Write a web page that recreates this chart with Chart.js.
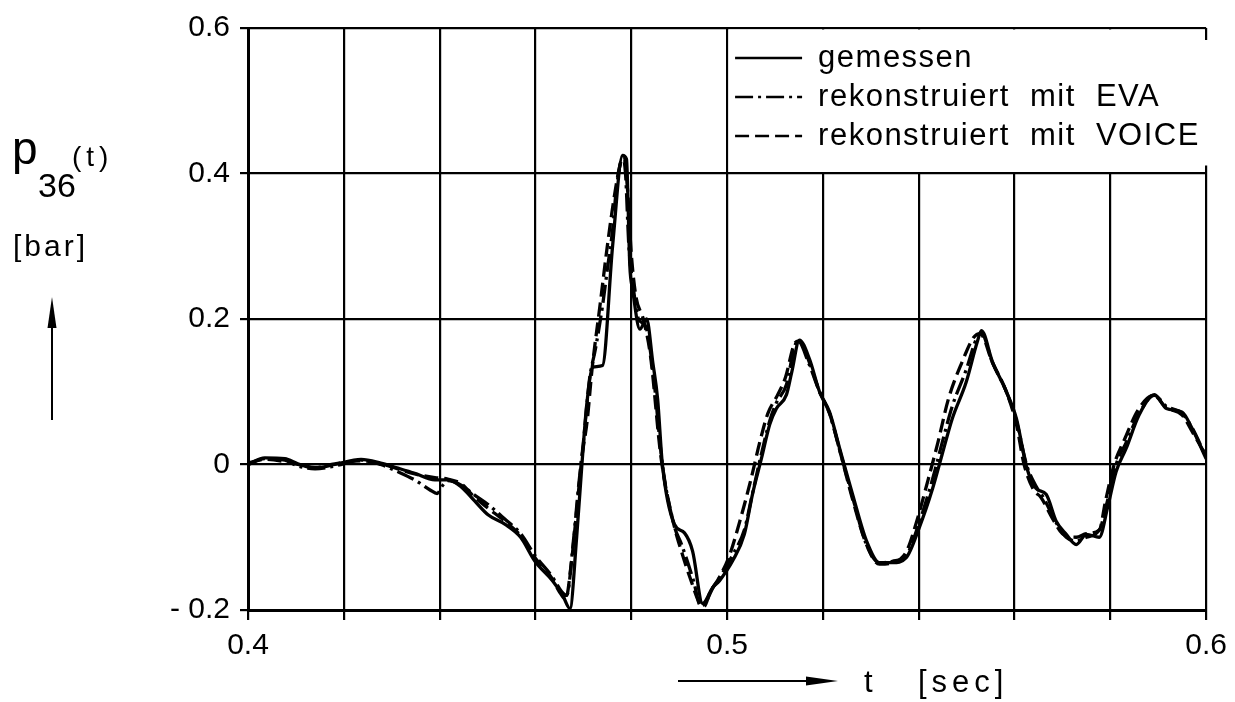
<!DOCTYPE html>
<html>
<head>
<meta charset="utf-8">
<script src="https://cdn.jsdelivr.net/npm/chart.js@4.4.1/dist/chart.umd.min.js"></script>
<style>
  html, body { margin: 0; padding: 0; background: #fff; }
  #wrap { width: 1235px; height: 702px; position: relative; }
</style>
</head>
<body>
<div id="wrap"><canvas id="c" width="1235" height="702"></canvas></div>
<script>
// ---- data ----
const seriesNames = ['gemessen', 'rekonstruiert mit EVA', 'rekonstruiert mit VOICE'];

const tGemessen = [0.400,0.4035,0.4077,0.4104,0.4140,0.4181,0.4236,0.4277,0.4313,0.4348,0.4390,0.4417,0.4444,0.4473,0.4501,0.4536,0.4569,0.4599,0.4636,0.4657,0.4672,0.4686,0.4697,0.4707,0.4720,0.4740,0.4761,0.4782,0.4790,0.4797,0.4803,0.4818,0.4832,0.4845,0.4855,0.4865,0.4890,0.4911,0.4928,0.4949,0.4970,0.4984,0.4999,0.5011,0.5036,0.5053,0.5072,0.5089,0.5103,0.5124,0.5135,0.5151,0.5172,0.5193,0.5214,0.5235,0.5262,0.5291,0.5318,0.5345,0.5374,0.5401,0.5429,0.5449,0.5470,0.5499,0.5522,0.5531,0.5554,0.5583,0.5604,0.5625,0.5645,0.5666,0.5687,0.5708,0.5729,0.5750,0.5777,0.5794,0.5812,0.5833,0.5860,0.5892,0.5917,0.5950,0.5971,0.6000];
const pGemessen = [0.000,0.009,0.008,0.001,-0.005,0.000,0.007,0.002,-0.005,-0.012,-0.021,-0.021,-0.030,-0.050,-0.069,-0.082,-0.100,-0.133,-0.160,-0.180,-0.198,-0.100,0.000,0.082,0.134,0.136,0.300,0.425,0.420,0.273,0.240,0.186,0.200,0.140,0.090,0.000,-0.082,-0.094,-0.119,-0.191,-0.169,-0.160,-0.146,-0.133,-0.096,-0.041,0.009,0.055,0.077,0.096,0.127,0.171,0.145,0.100,0.072,0.022,-0.041,-0.105,-0.135,-0.135,-0.128,-0.087,-0.033,0.014,0.063,0.113,0.168,0.184,0.141,0.100,0.063,-0.003,-0.033,-0.041,-0.078,-0.096,-0.110,-0.096,-0.100,-0.060,-0.010,0.022,0.068,0.096,0.077,0.072,0.049,0.008];

const tEva = [0.400,0.4035,0.4077,0.4104,0.4140,0.4181,0.4236,0.4277,0.4313,0.4350,0.4380,0.4395,0.4405,0.4417,0.4444,0.4473,0.4501,0.4536,0.4569,0.4599,0.4636,0.4655,0.4665,0.4680,0.4690,0.4700,0.4713,0.4725,0.4740,0.4751,0.4761,0.4768,0.4776,0.4782,0.4788,0.4795,0.4803,0.4815,0.4830,0.4845,0.4865,0.4890,0.4905,0.4930,0.4945,0.4955,0.4970,0.4990,0.5011,0.5036,0.5053,0.5070,0.5089,0.5103,0.5124,0.5140,0.5148,0.5170,0.5193,0.5214,0.5235,0.5262,0.5291,0.5318,0.5345,0.5374,0.5401,0.5429,0.5449,0.5470,0.5499,0.5522,0.5531,0.5554,0.5583,0.5604,0.5625,0.5645,0.5660,0.5687,0.5708,0.5729,0.5750,0.5777,0.5794,0.5812,0.5833,0.5860,0.5892,0.5917,0.5950,0.5971,0.6000];
const pEva = [0.000,0.008,0.006,-0.002,-0.006,-0.002,0.006,0.000,-0.010,-0.022,-0.035,-0.040,-0.030,-0.022,-0.028,-0.042,-0.055,-0.075,-0.095,-0.125,-0.155,-0.175,-0.180,-0.100,-0.030,0.030,0.118,0.158,0.218,0.273,0.322,0.373,0.410,0.424,0.400,0.300,0.250,0.200,0.190,0.130,0.000,-0.085,-0.110,-0.160,-0.195,-0.190,-0.170,-0.150,-0.125,-0.090,-0.040,0.010,0.060,0.085,0.110,0.160,0.170,0.140,0.100,0.070,0.020,-0.045,-0.110,-0.135,-0.133,-0.125,-0.080,-0.020,0.030,0.080,0.130,0.175,0.180,0.140,0.100,0.060,0.000,-0.030,-0.045,-0.080,-0.100,-0.105,-0.100,-0.090,-0.050,0.000,0.030,0.070,0.095,0.080,0.070,0.050,0.010];

const tVoice = [0.400,0.4035,0.4077,0.4104,0.4140,0.4181,0.4236,0.4277,0.4313,0.4348,0.4390,0.4417,0.4444,0.4473,0.4501,0.4536,0.4569,0.4599,0.4636,0.4650,0.4663,0.4675,0.4688,0.4697,0.4708,0.4718,0.4735,0.4750,0.4765,0.4778,0.4785,0.4792,0.4800,0.4810,0.4825,0.4840,0.4862,0.4888,0.4905,0.4925,0.4942,0.4952,0.4965,0.4984,0.5005,0.5030,0.5050,0.5068,0.5085,0.5105,0.5122,0.5140,0.5150,0.5172,0.5193,0.5214,0.5235,0.5262,0.5291,0.5318,0.5345,0.5374,0.5395,0.5420,0.5440,0.5462,0.5490,0.5515,0.5528,0.5554,0.5583,0.5604,0.5620,0.5640,0.5655,0.5680,0.5700,0.5729,0.5750,0.5777,0.5790,0.5808,0.5830,0.5858,0.5890,0.5917,0.5950,0.5971,0.6000];
const pVoice = [0.002,0.007,0.004,0.000,-0.004,0.001,0.005,0.001,-0.006,-0.013,-0.018,-0.020,-0.026,-0.045,-0.060,-0.078,-0.098,-0.128,-0.158,-0.175,-0.185,-0.135,-0.050,0.010,0.060,0.130,0.220,0.300,0.370,0.415,0.420,0.380,0.290,0.230,0.200,0.150,0.010,-0.080,-0.120,-0.160,-0.190,-0.195,-0.175,-0.155,-0.125,-0.070,-0.020,0.030,0.070,0.095,0.120,0.165,0.170,0.140,0.100,0.070,0.020,-0.048,-0.110,-0.137,-0.135,-0.120,-0.080,-0.020,0.030,0.090,0.140,0.175,0.180,0.140,0.100,0.055,0.000,-0.035,-0.045,-0.075,-0.095,-0.100,-0.095,-0.090,-0.050,0.000,0.035,0.075,0.095,0.078,0.068,0.045,0.012];

const yTickValues = [-0.2, 0, 0.2, 0.4, 0.6];
const yTickLabels = ['- 0.2', '0', '0.2', '0.4', '0.6'];
const xTickValues = [0.4, 0.5, 0.6];
const xTickLabels = ['0.4', '0.5', '0.6'];

// ---- chart ----
const FONT = '"Liberation Sans", Arial, sans-serif';
const toXY = (ts, ps) => ts.map((t, i) => ({ x: t, y: ps[i] }));
const findLabel = (vals, labels, v) => {
  const i = vals.findIndex(a => Math.abs(a - v) < 1e-6);
  return i >= 0 ? labels[i] : '';
};

const boxLegend = {
  id: 'boxLegend',
  beforeDatasetsDraw(chart) {
    const { ctx, chartArea: a, scales: { x, y } } = chart;
    const x0 = x.getPixelForValue(0.5);
    const y1 = y.getPixelForValue(0.4);
    ctx.save();
    ctx.fillStyle = '#fff';
    ctx.fillRect(x0 + 1.5, a.top + 1.5, a.right - 1.5 - (x0 + 1.5), y1 - 1.5 - (a.top + 1.5));
    ctx.fillRect(a.right - 4, a.top + 12, 8, y1 - 8 - (a.top + 12));
    chart.data.datasets.forEach((ds, i) => {
      const yy = a.top + 30 + i * 39;
      ctx.beginPath();
      ctx.setLineDash(ds.borderDash || []);
      ctx.lineWidth = 2.5;
      ctx.strokeStyle = '#000';
      ctx.moveTo(x0 + 8, yy);
      ctx.lineTo(x0 + 75, yy);
      ctx.stroke();
      ctx.setLineDash([]);
      ctx.font = '31px ' + FONT;
      ctx.letterSpacing = '1.5px';
      ctx.wordSpacing = '10px';
      ctx.textBaseline = 'alphabetic';
      ctx.textAlign = 'left';
      ctx.fillStyle = '#000';
      ctx.fillText(ds.label, x0 + 91, yy + 9);
    });
    ctx.restore();
  }
};

const axisTitles = {
  id: 'axisTitles',
  afterDraw(chart) {
    const { ctx } = chart;
    ctx.save();
    ctx.fillStyle = '#000';
    ctx.strokeStyle = '#000';
    ctx.textBaseline = 'alphabetic';
    ctx.textAlign = 'left';
    // y title: p36(t) [bar] with arrow
    ctx.font = '46px ' + FONT;
    ctx.fillText('p', 12, 164);
    ctx.font = '34px ' + FONT;
    ctx.fillText('36', 38, 197);
    ctx.font = '28px ' + FONT;
    ctx.letterSpacing = '5px';
    ctx.fillText('(t)', 72, 166);
    ctx.font = '30px ' + FONT;
    ctx.letterSpacing = '3px';
    ctx.fillText('[bar]', 13, 256);
    ctx.letterSpacing = '0px';
    ctx.lineWidth = 2;
    ctx.beginPath(); ctx.moveTo(52, 420); ctx.lineTo(52, 320); ctx.stroke();
    ctx.beginPath(); ctx.moveTo(52, 297); ctx.lineTo(47.5, 328); ctx.lineTo(56.5, 328); ctx.closePath(); ctx.fill();
    // x title: arrow t [sec]
    ctx.beginPath(); ctx.moveTo(678, 681); ctx.lineTo(812, 681); ctx.stroke();
    ctx.beginPath(); ctx.moveTo(838, 681); ctx.lineTo(806, 676.5); ctx.lineTo(806, 685.5); ctx.closePath(); ctx.fill();
    ctx.font = '31px ' + FONT;
    ctx.fillText('t', 864, 692);
    ctx.letterSpacing = '5px';
    ctx.fillText('[sec]', 918, 692);
    ctx.restore();
  }
};

const lineStyle = { borderColor: '#000', backgroundColor: '#000', borderWidth: 3.3, pointRadius: 0, fill: false, cubicInterpolationMode: 'monotone' };

new Chart(document.getElementById('c'), {
  type: 'line',
  data: {
    datasets: [
      Object.assign({ label: seriesNames[0], data: toXY(tGemessen, pGemessen), borderDash: [] }, lineStyle),
      Object.assign({ label: seriesNames[1], data: toXY(tEva, pEva), borderDash: [18, 5, 3, 5] }, lineStyle),
      Object.assign({ label: seriesNames[2], data: toXY(tVoice, pVoice), borderDash: [14, 6] }, lineStyle)
    ]
  },
  options: {
    responsive: false,
    animation: false,
    events: [],
    layout: { padding: { left: 0, right: 28, top: 27, bottom: 0 } },
    plugins: { legend: { display: false }, tooltip: { enabled: false }, title: { display: false } },
    scales: {
      x: {
        type: 'linear', min: 0.4, max: 0.6,
        afterFit(s) { s.height = 92; },
        grid: { color: '#000', lineWidth: 2.2, drawTicks: true, tickLength: 10, tickColor: '#000', tickWidth: 2.2 },
        border: { display: true, color: '#000', width: 3 },
        ticks: {
          stepSize: 0.02, autoSkip: false, maxRotation: 0, padding: 8, color: '#000',
          font: { family: FONT, size: 30 },
          callback: v => findLabel(xTickValues, xTickLabels, v)
        }
      },
      y: {
        type: 'linear', min: -0.2, max: 0.6,
        afterFit(s) { s.width = 248; },
        grid: { color: '#000', lineWidth: 2.2, drawTicks: true, tickLength: 8, tickColor: '#000', tickWidth: 2.2 },
        border: { display: true, color: '#000', width: 3 },
        ticks: {
          stepSize: 0.2, padding: 10, color: '#000',
          font: { family: FONT, size: 30 },
          callback: v => findLabel(yTickValues, yTickLabels, v)
        }
      }
    }
  },
  plugins: [boxLegend, axisTitles]
});
</script>
</body>
</html>
